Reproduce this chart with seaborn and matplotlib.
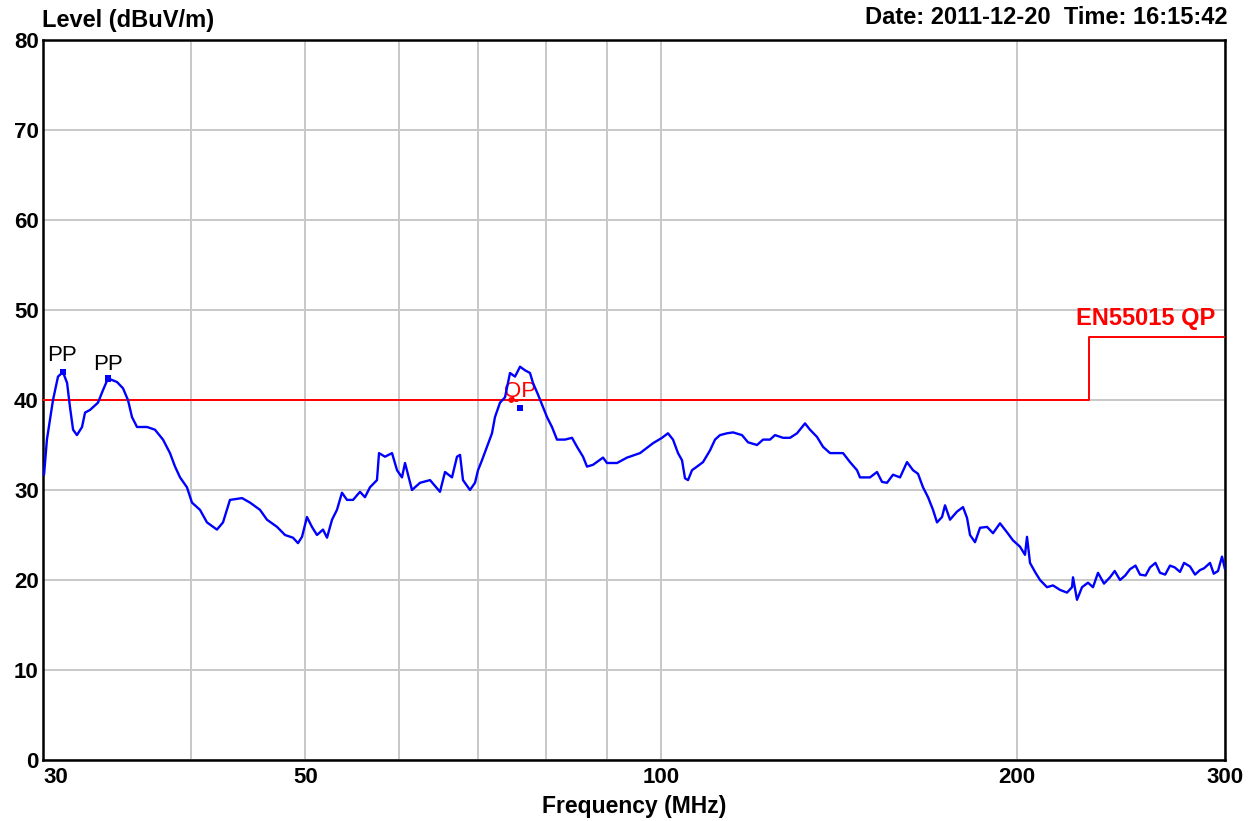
import matplotlib
matplotlib.use("Agg")
import matplotlib.pyplot as plt
import seaborn as sns
import pandas as pd

# ---- data ----
freq_mhz = [
    30.06, 30.23, 30.59, 30.89, 31.19, 31.44, 31.62, 31.81, 32.05, 32.37,
    32.56, 32.88, 33.39, 33.72, 34.05, 34.65, 35.06, 35.40, 35.68, 36.03,
    36.74, 37.31, 37.90, 38.42, 38.80, 39.18, 39.71, 40.10, 40.73, 41.29,
    42.10, 42.60, 43.18, 44.21, 44.90, 45.78, 46.41, 47.33, 48.07, 48.82,
    49.30, 49.69, 50.17, 50.66, 51.16, 51.76, 52.17, 52.68, 53.19, 53.71,
    54.24, 54.88, 55.63, 56.17, 56.72, 57.50, 57.73, 58.41, 59.21, 59.79,
    60.37, 60.73, 61.56, 62.53, 63.76, 65.01, 65.65, 66.55, 67.20, 67.60,
    67.99, 68.92, 69.60, 70.01, 70.55, 71.24, 71.94, 72.36, 73.07, 73.79,
    74.51, 75.24, 75.98, 76.72, 77.47, 77.92, 78.69, 79.46, 80.08, 80.86,
    81.65, 82.94, 84.08, 84.90, 85.90, 86.57, 87.59, 89.31, 90.01, 91.78,
    93.59, 95.99, 98.45, 100.19, 101.36, 102.36, 103.36, 104.17, 104.78, 105.40,
    106.22, 107.26, 108.52, 110.01, 111.09, 112.17, 113.71, 115.05, 117.08, 118.46,
    120.56, 121.98, 123.65, 124.86, 126.82, 128.56, 130.33, 132.37, 133.67, 135.50,
    137.10, 138.98, 140.89, 142.55, 144.50, 146.49, 147.34, 150.24, 152.30, 153.80,
    155.30, 157.13, 159.29, 161.47, 163.37, 164.97, 166.58, 168.22, 169.86, 171.19,
    172.87, 173.88, 175.58, 177.99, 180.08, 181.50, 182.56, 184.34, 186.15, 188.71,
    190.92, 193.54, 196.20, 198.50, 201.23, 203.20, 203.99, 205.19, 207.20, 209.23,
    212.10, 214.59, 217.54, 220.52, 222.68, 223.12, 224.86, 227.07, 229.73, 231.98,
    234.25, 237.00, 239.79, 242.00, 244.51, 247.00, 249.32, 252.00, 254.22, 257.00,
    259.23, 262.00, 264.32, 267.00, 269.52, 272.00, 274.83, 277.00, 280.23, 283.00,
    285.74, 288.00, 291.37, 293.50, 295.94, 298.25, 300.00,
]
level_dbuv = [
    31.7, 35.6, 40.0, 42.6, 43.1, 41.9, 39.2, 36.7, 36.1, 37.0,
    38.6, 38.9, 39.7, 41.1, 42.4, 42.0, 41.3, 40.0, 38.1, 37.0,
    37.0, 36.7, 35.6, 34.1, 32.6, 31.4, 30.3, 28.6, 27.8, 26.4,
    25.6, 26.4, 28.9, 29.1, 28.6, 27.8, 26.7, 25.9, 25.0, 24.7,
    24.1, 24.8, 27.0, 25.9, 25.0, 25.6, 24.7, 26.7, 27.8, 29.7,
    28.9, 28.9, 29.8, 29.2, 30.3, 31.1, 34.1, 33.7, 34.1, 32.2,
    31.4, 33.0, 30.0, 30.8, 31.1, 29.8, 32.0, 31.4, 33.7, 33.9,
    31.1, 30.0, 30.8, 32.2, 33.3, 34.8, 36.3, 38.1, 39.7, 40.3,
    43.0, 42.6, 43.7, 43.3, 43.0, 41.9, 40.6, 39.2, 38.1, 37.0,
    35.6, 35.6, 35.8, 34.8, 33.7, 32.6, 32.8, 33.6, 33.0, 33.0,
    33.6, 34.1, 35.2, 35.8, 36.3, 35.6, 34.1, 33.3, 31.3, 31.1,
    32.2, 32.6, 33.1, 34.4, 35.6, 36.1, 36.3, 36.4, 36.1, 35.3,
    35.0, 35.6, 35.6, 36.1, 35.8, 35.8, 36.3, 37.4, 36.7, 35.9,
    34.8, 34.1, 34.1, 34.1, 33.1, 32.2, 31.4, 31.4, 32.0, 30.9,
    30.8, 31.7, 31.4, 33.1, 32.2, 31.8, 30.3, 29.2, 27.8, 26.4,
    27.0, 28.3, 26.7, 27.6, 28.1, 26.9, 25.0, 24.2, 25.8, 25.9,
    25.2, 26.3, 25.3, 24.4, 23.7, 22.8, 24.8, 21.9, 20.9, 20.0,
    19.2, 19.4, 18.9, 18.6, 19.2, 20.3, 17.8, 19.2, 19.7, 19.2,
    20.8, 19.6, 20.3, 21.0, 20.0, 20.5, 21.2, 21.6, 20.6, 20.5,
    21.4, 21.9, 20.8, 20.6, 21.6, 21.4, 20.9, 21.9, 21.5, 20.6,
    21.1, 21.3, 21.9, 20.7, 21.0, 22.6, 21.2,
]

limit_freq = [30, 230, 230, 300]
limit_level = [40, 40, 47, 47]
limit_name = "EN55015 QP"

pp_freq = [31.19, 34.05]
pp_level = [43.1, 42.4]
qp_freq = [76.0]
qp_level = [39.1]
qp_limit_freq = [74.7]
qp_limit_level = [40.0]

grid_freqs = [40, 50, 60, 70, 80, 90, 100, 200]
tick_freqs = [30, 50, 100, 200, 300]
tick_labels = ["30", "50", "100", "200", "300"]
y_ticks = [0, 10, 20, 30, 40, 50, 60, 70, 80]

x_title = "Frequency (MHz)"
y_title = "Level (dBuV/m)"
stamp = "Date: 2011-12-20  Time: 16:15:42"

# ---- drawing ----
sns.set_style("white")
plt.rcParams["font.family"] = ["Liberation Sans", "DejaVu Sans"]
for key in ["text.color", "axes.labelcolor", "xtick.color", "ytick.color"]:
    plt.rcParams[key] = "black"

W, H = 1253, 821
fig = plt.figure(figsize=(W / 100, H / 100), dpi=100)
ax = fig.add_axes([43 / W, 61 / H, 1182 / W, 720 / H])

trace = pd.DataFrame({"f": freq_mhz, "lvl": level_dbuv})
limit = pd.DataFrame({"f": limit_freq, "lvl": limit_level})

ax.set_xscale("log")
sns.lineplot(data=limit, x="f", y="lvl", ax=ax, color="#ff0000", lw=1.4,
             estimator=None, sort=False, zorder=3)
sns.lineplot(data=trace, x="f", y="lvl", ax=ax, color="#0000ff", lw=1.7,
             estimator=None, sort=False, zorder=4)
sns.scatterplot(x=pp_freq, y=pp_level, ax=ax, color="#0000ff", marker="s",
                s=22, edgecolor="none", zorder=5)
sns.scatterplot(x=qp_freq, y=qp_level, ax=ax, color="#0000ff", marker="s",
                s=22, edgecolor="none", zorder=5)
sns.scatterplot(x=qp_limit_freq, y=qp_limit_level, ax=ax, color="#ff0000",
                marker="o", s=18, edgecolor="none", zorder=5)

ax.set_xlim(30, 300)
ax.set_ylim(0, 80)
ax.set_xticks(tick_freqs)
ax.set_xticklabels(tick_labels)
ax.set_xticks(grid_freqs, minor=True)
ax.set_xticklabels([], minor=True)
ax.set_yticks(y_ticks)
ax.set_yticklabels([str(v) for v in y_ticks])
ax.grid(which="both", color="#c8c8c8", lw=1.4, zorder=0)
ax.set_axisbelow(True)
ax.tick_params(which="both", length=0)
ax.tick_params(axis="x", pad=5, labelsize=16)
ax.tick_params(axis="y", pad=3, labelsize=16)
for lab in ax.get_xticklabels() + ax.get_yticklabels():
    lab.set_fontweight("bold")
first = ax.get_xticklabels()[0]
first.set_horizontalalignment("left")
for sp in ax.spines.values():
    sp.set_color("black")
    sp.set_linewidth(1.8)

ax.set_xlabel(x_title, fontsize=16.5, fontweight="bold", labelpad=5)
ax.set_ylabel("")

# annotations
ax.text(31.13, 43.8, "PP", ha="center", va="bottom", fontsize=16, color="black")
ax.text(34.05, 42.8, "PP", ha="center", va="bottom", fontsize=16, color="black")
ax.text(76.0, 40.9, "QP", ha="center", va="center", fontsize=16, color="#ff0000")
ax.text(294.5, 47.8, limit_name, ha="right", va="bottom", fontsize=17,
        fontweight="bold", color="#ff0000")

fig.text(42 / W, 1 - 21 / H, y_title, ha="left", va="center", fontsize=17,
         fontweight="bold")
fig.text(1228 / W, 1 - 18 / H, stamp, ha="right", va="center", fontsize=17,
         fontweight="bold")

fig.savefig("out.png", dpi=100)
